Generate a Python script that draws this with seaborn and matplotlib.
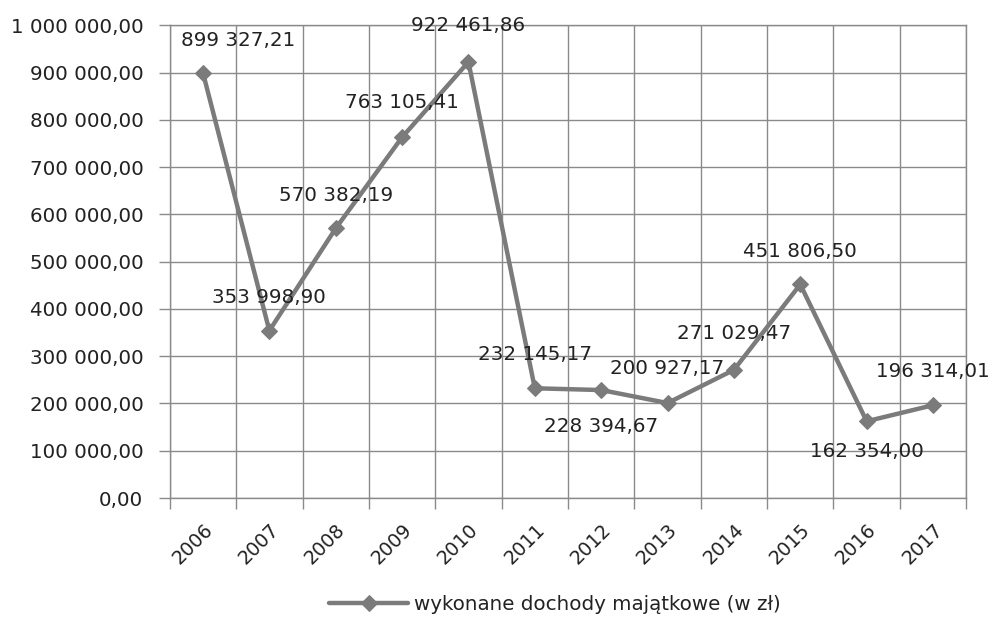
import seaborn as sns
import matplotlib.pyplot as plt
import pandas as pd
from matplotlib.ticker import FuncFormatter, MultipleLocator

years = [2006, 2007, 2008, 2009, 2010, 2011, 2012, 2013, 2014, 2015, 2016, 2017]
values = [899327.21, 353998.90, 570382.19, 763105.41, 922461.86, 232145.17,
          228394.67, 200927.17, 271029.47, 451806.50, 162354.00, 196314.01]
series_name = 'wykonane dochody majątkowe (w zł)'

# przesunięcia etykiet (w punktach)
label_offsets = [(25, 23), (0, 24), (0, 24), (0, 25), (0, 26), (0, 24),
                 (0, -26), (0, 25), (0, 26), (0, 24), (0, -22), (0, 24)]


def pl_fmt(v, pos=None):
    return f'{v:,.2f}'.replace(',', ' ').replace('.', ',')


df = pd.DataFrame({'rok': years, 'wartosc': values})

sns.set_style('white')
plt.rcParams['font.family'] = ['DejaVu Sans']

fig = plt.figure(figsize=(9.93, 6.32), dpi=100)
ax = fig.add_axes([0.171, 0.212, 0.802, 0.748])

line_col = '#7b7b7b'
txt_col = '#222222'
grid_col = '#8a8a8a'
fs = 14.3

sns.lineplot(data=df, x='rok', y='wartosc', ax=ax, color=line_col, linewidth=3.2,
             marker='D', markersize=8, markeredgecolor=line_col, label=series_name,
             legend=False)

ax.set_xlim(years[0] - 0.5, years[-1] + 0.5)
ax.set_ylim(0, 1_000_000)
ax.set_xticks(years)
ax.set_xticks([y - 0.5 for y in years] + [years[-1] + 0.5], minor=True)
ax.yaxis.set_major_locator(MultipleLocator(100_000))
ax.yaxis.set_major_formatter(FuncFormatter(pl_fmt))

ax.grid(False)
ax.grid(True, which='minor', axis='x', color=grid_col, linewidth=1)
ax.grid(True, which='major', axis='y', color=grid_col, linewidth=1)
for s in ax.spines.values():
    s.set_color(grid_col)
    s.set_linewidth(1)

ax.tick_params(axis='x', which='major', length=0, pad=16, labelsize=fs - 0.5, colors=txt_col)
ax.tick_params(axis='x', which='minor', length=8, width=1, color=grid_col, direction='out',
               bottom=True)
ax.tick_params(axis='y', which='major', length=8, width=1, color=grid_col, direction='out',
               labelsize=fs, labelcolor=txt_col, left=True, pad=11)
for lab in ax.get_xticklabels():
    lab.set_rotation(45)
    lab.set_ha('right')
    lab.set_rotation_mode('anchor')

ax.set_xlabel('')
ax.set_ylabel('')

for x, y, off in zip(years, values, label_offsets):
    ax.annotate(pl_fmt(y), (x, y), xytext=off, textcoords='offset points',
                ha='center', va='center', fontsize=fs, color=txt_col, clip_on=False)

handles, labels = ax.get_legend_handles_labels()
fig.legend(handles, labels, loc='center', bbox_to_anchor=(0.559, 0.043), frameon=False,
           fontsize=fs, labelcolor=txt_col, handlelength=4, handletextpad=0.3)

fig.savefig('out.png', dpi=100, facecolor='white')
